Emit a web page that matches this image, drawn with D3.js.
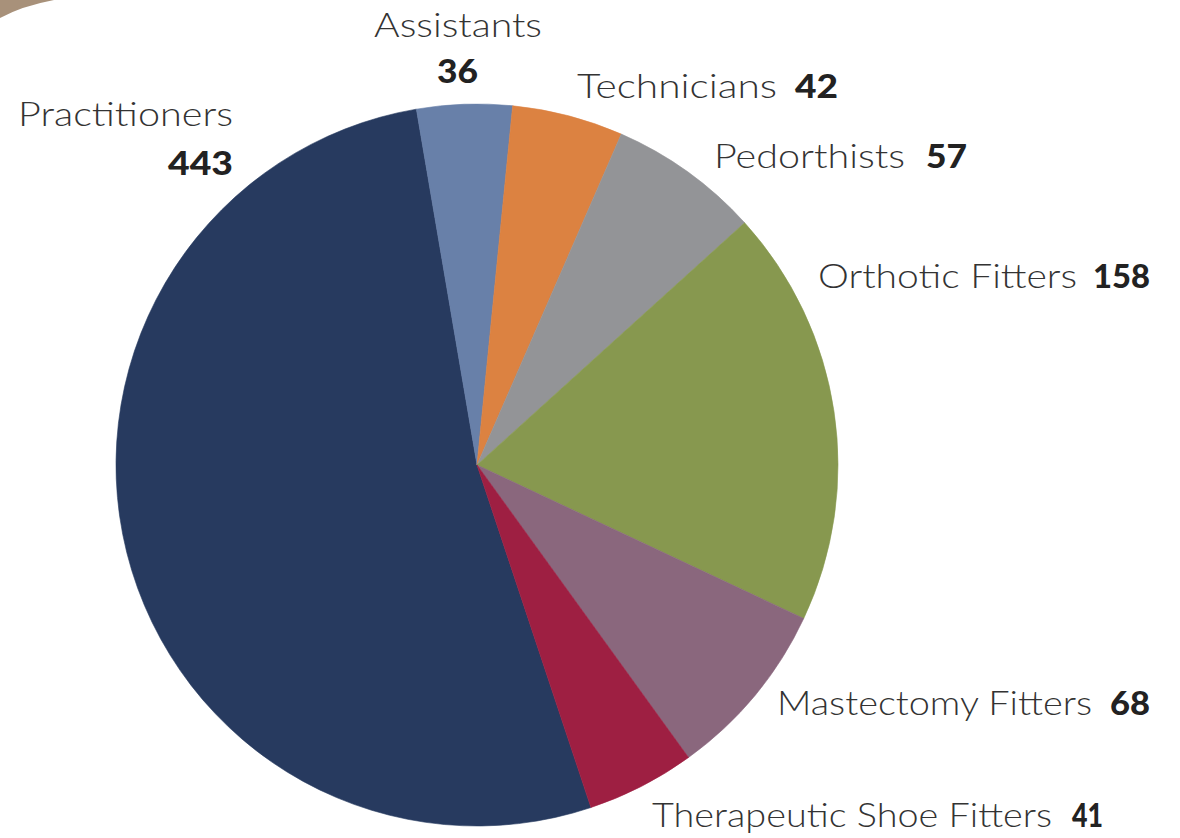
<!DOCTYPE html>
<html>
<head>
  <title>Workforce Pie</title>
  <style>
    body { margin: 0; background: #fff; }
    svg { display: block; }
    .name { font-family: 'Lato', 'Open Sans', sans-serif; font-weight: 300; fill: #333; }
    .num { font-family: 'Lato', 'Open Sans', sans-serif; font-weight: 900; fill: #222; }
  </style>
</head>
<body>
  <script src="https://d3js.org/d3.v7.min.js"></script>
  <script>
    // data, in clockwise order
    const categories = ["Practitioners", "Assistants", "Technicians", "Pedorthists",
      "Orthotic Fitters", "Mastectomy Fitters", "Therapeutic Shoe Fitters"];
    const counts = [443, 36, 42, 57, 158, 68, 41];
    const colors = ["#273a5f", "#6880a9", "#dc8241", "#939497", "#87984f", "#8a677d", "#9e1f42"];

    const width = 1180, height = 838;
    const cx = 477, cy = 465, radius = 361;
    const start = -198.4 * Math.PI / 180;

    // label placement: [nameX, nameY, nameW, numX, numY, numW]
    const labelPos = [
      [18, 126, 215, 168, 175, 65],
      [374, 37, 168, 437, 83, 41],
      [577, 98, 200, 795, 98, 43],
      [714, 168, 191, 926, 168, 41],
      [818, 288, 259, 1093, 288, 57],
      [777, 715, 315, 1110, 715, 40],
      [652, 827, 400, 1072, 827, 31]
    ];

    const svg = d3.select("body").append("svg")
      .attr("width", width)
      .attr("height", height);

    // decorative corner arc
    svg.append("path")
      .attr("d", "M0,0 L54,0 Q22,6 0,18 Z")
      .attr("fill", "#a8917a");

    const pie = d3.pie().sort(null).startAngle(start).endAngle(start + 2 * Math.PI);
    const arc = d3.arc().innerRadius(0).outerRadius(radius);

    svg.append("g")
      .attr("transform", `translate(${cx},${cy})`)
      .selectAll("path")
      .data(pie(counts))
      .join("path")
      .attr("d", arc)
      .attr("fill", (d, i) => colors[i])
      .attr("stroke", (d, i) => colors[i])
      .attr("stroke-width", 0.6);

    const labels = svg.append("g");
    categories.forEach((c, i) => {
      const p = labelPos[i];
      labels.append("text")
        .attr("class", "name")
        .attr("x", p[0]).attr("y", p[1])
        .attr("font-size", 33)
        .attr("textLength", p[2])
        .attr("lengthAdjust", "spacingAndGlyphs")
        .text(c);
      labels.append("text")
        .attr("class", "num")
        .attr("x", p[3]).attr("y", p[4])
        .attr("font-size", 33)
        .attr("textLength", p[5])
        .attr("lengthAdjust", "spacingAndGlyphs")
        .text(counts[i]);
    });
  </script>
</body>
</html>
